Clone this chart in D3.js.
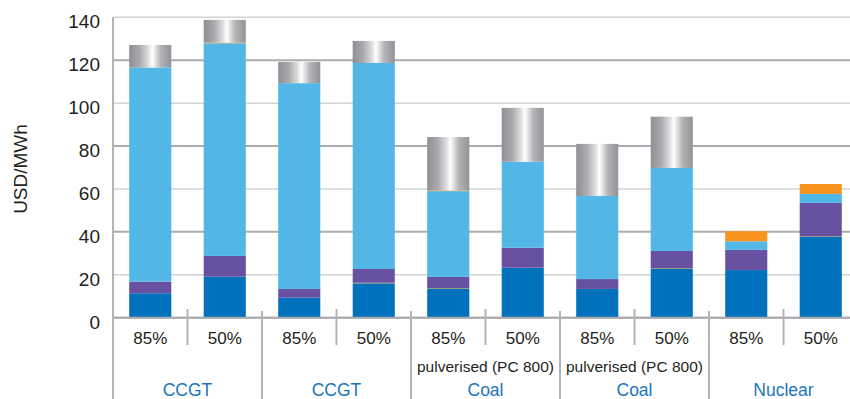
<!DOCTYPE html>
<html>
<head>
<meta charset="utf-8">
<script src="https://cdn.jsdelivr.net/npm/d3@7"></script>
<style>
  html, body { margin: 0; padding: 0; background: #fff; }
  svg { display: block; font-family: "Liberation Sans", Arial, sans-serif; }
</style>
</head>
<body>
<svg id="chart" width="850" height="399"></svg>
<script>
// ---- data ----
const groups = ["CCGT", "CCGT ", "Coal", "Coal ", "Nuclear"];
const groupLabels = ["CCGT", "CCGT", "Coal", "Coal", "Nuclear"];
const subLabels = ["", "", "pulverised (PC 800)", "pulverised (PC 800)", ""];
const loadFactors = ["85%", "50%"];
const investment = [11.4, 19.1, 9.3, 16.0, 13.5, 23.3, 13.4, 22.8, 22.2, 37.6];
const decommissioning = [0, 0, 0, 0.3, 0.3, 0, 0, 0.3, 0, 0.3];
const operation = [5.4, 9.7, 4.1, 6.4, 5.2, 9.3, 4.6, 8.0, 9.4, 15.6];
const fuel = [99.8, 99.1, 95.9, 96.0, 40.0, 40.1, 38.7, 38.7, 4.0, 4.2];
const waste = [0, 0.3, 0, 0, 0.3, 0, 0, 0, 4.7, 4.6];
const carbon = [10.5, 10.6, 9.9, 10.3, 24.9, 25.1, 24.3, 23.9, 0, 0];
const yTicks = [0, 20, 40, 60, 80, 100, 120, 140];
const seriesKeys = ["investment", "decommissioning", "operation", "fuel", "waste", "carbon"];
const seriesColors = {
  investment: "#0071bc",
  decommissioning: "#8a8c4a",
  operation: "#6951a1",
  fuel: "#52b6e7",
  waste: "#f7941d",
  carbon: "url(#carbonGrad)"
};

const rows = [];
groups.forEach((g, gi) => {
  loadFactors.forEach((lf, li) => {
    const i = gi * 2 + li;
    rows.push({
      group: g, lf: lf,
      investment: investment[i], decommissioning: decommissioning[i],
      operation: operation[i], fuel: fuel[i], waste: waste[i], carbon: carbon[i]
    });
  });
});

const svg = d3.select("#chart");
const mLeft = 113, mRight = 858, mTop = 17.3, mBottom = 317.7;

// gradient for carbon segments
const defs = svg.append("defs");
const grad = defs.append("linearGradient").attr("id", "carbonGrad")
  .attr("x1", "0%").attr("x2", "100%").attr("y1", "0%").attr("y2", "0%");
[[0, "#8e8f93"], [0.25, "#a9aaad"], [0.45, "#dcdcdd"], [0.55, "#ffffff"], [0.62, "#e4e4e5"],
 [0.75, "#b3b4b7"], [1, "#929397"]].forEach(([o, c]) =>
  grad.append("stop").attr("offset", o).attr("stop-color", c));

const y = d3.scaleLinear().domain([0, 140]).range([mBottom, mTop]);
const xGroup = d3.scaleBand().domain(groups).range([mLeft, mRight]).padding(0);
const xInner = d3.scaleBand().domain(loadFactors).range([0, xGroup.bandwidth()])
  .paddingInner(0.435).paddingOuter(0.2175);

// gridlines
svg.append("g").selectAll("line").data(yTicks).join("line")
  .attr("x1", mLeft).attr("x2", 850)
  .attr("y1", d => y(d)).attr("y2", d => y(d))
  .attr("stroke", d => (d % 40 === 0 ? "#abacaf" : "#d2d3d5"))
  .attr("stroke-width", d => (d % 40 === 0 ? 2 : 1.5));

// y axis line
svg.append("line").attr("x1", mLeft).attr("x2", mLeft)
  .attr("y1", y(140)).attr("y2", y(0))
  .attr("stroke", "#b3b4b7").attr("stroke-width", 2);

// y tick labels via d3 axis
const yAxis = svg.append("g").attr("transform", `translate(${100},0)`)
  .call(d3.axisLeft(y).tickValues(yTicks).tickSize(0).tickPadding(0));
yAxis.select(".domain").remove();
yAxis.selectAll("text").attr("font-size", 19).attr("fill", "#231f20")
  .attr("font-family", "Liberation Sans, Arial, sans-serif")
  .attr("dy", "0.55em").attr("x", 0);

// y axis title
svg.append("text").attr("transform", `translate(27,${169}) rotate(-90)`)
  .attr("text-anchor", "middle").attr("font-size", 19).attr("fill", "#231f20")
  .text("USD/MWh");

// stacked bars
const stack = d3.stack().keys(seriesKeys);
const stacked = stack(rows);
svg.append("g").selectAll("g").data(stacked).join("g")
  .attr("fill", d => seriesColors[d.key])
  .selectAll("rect").data(d => d).join("rect")
  .attr("x", d => xGroup(d.data.group) + xInner(d.data.lf))
  .attr("width", xInner.bandwidth())
  .attr("y", d => y(d[1]))
  .attr("height", d => Math.max(0, y(d[0]) - y(d[1])));

// bottom axis line
svg.append("line").attr("x1", mLeft).attr("x2", 850)
  .attr("y1", y(0)).attr("y2", y(0))
  .attr("stroke", "#abacaf").attr("stroke-width", 2);

// category separators
svg.append("g").selectAll("line").data(groups).join("line")
  .attr("x1", d => xGroup(d)).attr("x2", d => xGroup(d))
  .attr("y1", (d, i) => (i === 0 ? y(0) : 311)).attr("y2", 399)
  .attr("stroke", "#b3b4b7").attr("stroke-width", 2);
// mid ticks between load factors
svg.append("g").selectAll("line").data(groups).join("line")
  .attr("x1", d => xGroup(d) + xGroup.bandwidth() / 2)
  .attr("x2", d => xGroup(d) + xGroup.bandwidth() / 2)
  .attr("y1", 309).attr("y2", 345)
  .attr("stroke", "#b3b4b7").attr("stroke-width", 2);

// load factor labels
svg.append("g").selectAll("text").data(rows).join("text")
  .attr("x", d => xGroup(d.group) + xInner(d.lf) + xInner.bandwidth() / 2)
  .attr("y", 344).attr("text-anchor", "middle")
  .attr("font-size", 17).attr("fill", "#231f20")
  .text(d => d.lf);

// sub labels
svg.append("g").selectAll("text").data(groups).join("text")
  .attr("x", d => xGroup(d) + xGroup.bandwidth() / 2)
  .attr("y", 372).attr("text-anchor", "middle")
  .attr("font-size", 15.5).attr("fill", "#231f20")
  .text((d, i) => subLabels[i]);

// group labels
svg.append("g").selectAll("text").data(groups).join("text")
  .attr("x", d => xGroup(d) + xGroup.bandwidth() / 2)
  .attr("y", 396).attr("text-anchor", "middle")
  .attr("font-size", 17.5).attr("fill", "#1b75bc")
  .text((d, i) => groupLabels[i]);
</script>
</body>
</html>
